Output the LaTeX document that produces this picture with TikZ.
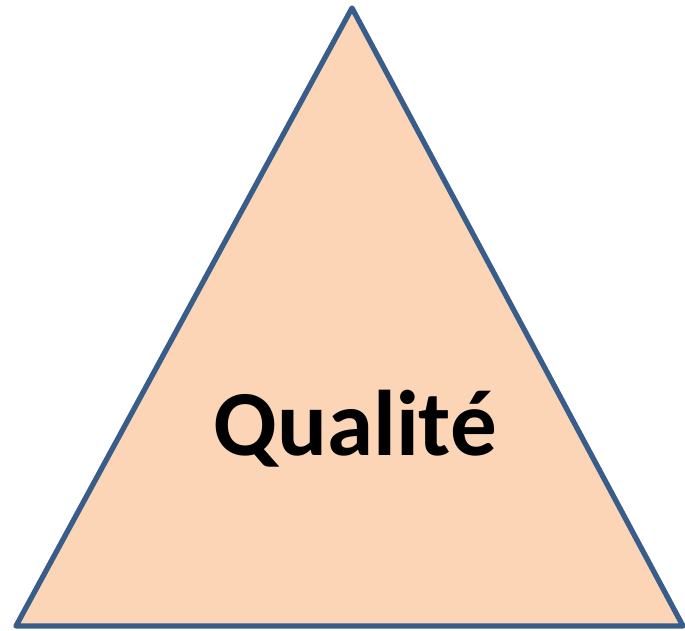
\documentclass[tikz,border=0pt]{standalone}
\usepackage{fontspec}
\setmainfont{Carlito}
\usepackage{tikz}
\usetikzlibrary{positioning}
\definecolor{peachfill}{HTML}{FBD5B5}
\definecolor{edgeblue}{HTML}{385D8A}
\tikzset{
    triface/.style={fill=peachfill, draw=edgeblue, line width=3pt, line join=round},
    bigword/.style={font=\fontsize{53}{60}\selectfont\bfseries, text=black}
}

\begin{document}
\begin{tikzpicture}
        \useasboundingbox (0,0) rectangle (13.70,12.60);
        \coordinate (apex) at (7.04,12.44);
        \coordinate (left) at (0.32,0.08);
        \coordinate (right) at (13.66,0.08);
        \draw[triface] (left) -- (apex) -- (right) -- cycle;
        \node[bigword] (quality) at (7.10,4.02) {Qualité};
    \end{tikzpicture}
\end{document}
